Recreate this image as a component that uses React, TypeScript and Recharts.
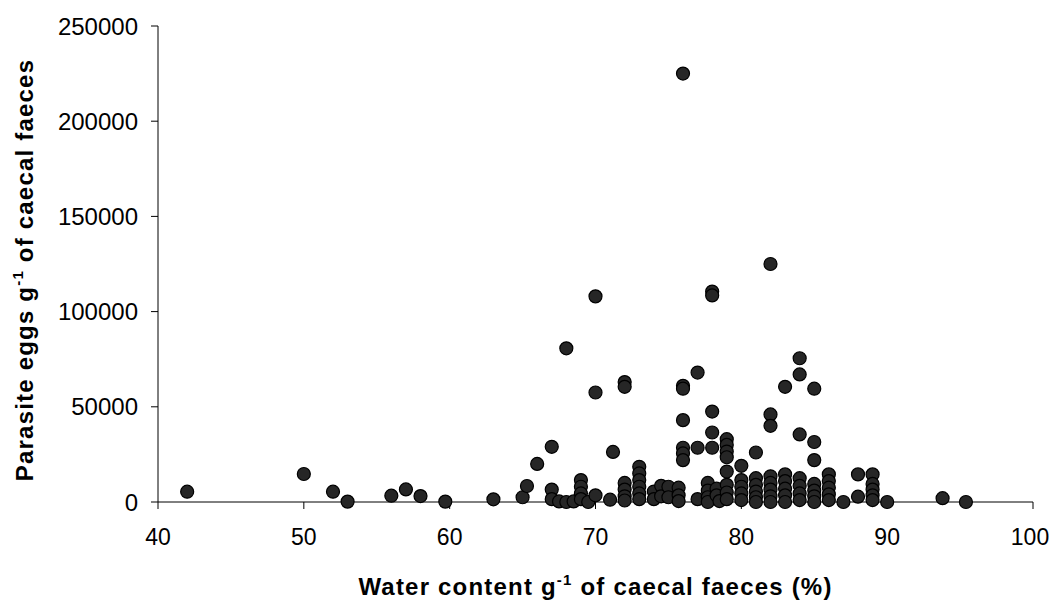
import { ScatterChart, Scatter, XAxis, YAxis, Label } from 'recharts'

// water content (%) and parasite eggs per g, one entry per bird
const waterContent = [
  42, 50, 52, 53, 56, 57, 58, 59.7, 63, 65, 65.3, 66, 67, 67, 67, 67.5, 68, 68.5, 68,
  69, 69, 69, 69, 69.5, 70, 70, 70, 71, 71.2, 72, 72, 72, 72, 72, 72,
  73, 73, 73, 73, 73, 73, 74, 74, 74.5, 74.5, 75, 75, 75.7, 75.7, 75.7,
  76, 76, 76, 76, 76, 76, 76, 77, 77, 77, 77.7, 77.7, 77.7, 77.7,
  78, 78, 78, 78, 78, 78.3, 78.3, 78.5,
  79, 79, 79, 79, 79, 79, 79, 79, 80, 80, 80, 80, 80,
  81, 81, 81, 81, 81, 81, 82, 82, 82, 82, 82, 82, 82, 82,
  83, 83, 83, 83, 83, 83, 84, 84, 84, 84, 84, 84, 84,
  85, 85, 85, 85, 85, 85, 85, 86, 86, 86, 86, 86, 87,
  88, 88, 89, 89, 89, 89, 89, 90, 93.8, 95.4,
]

const eggsPerGram = [
  5400, 14700, 5400, 200, 3300, 6600, 3100, 200, 1400, 2500, 8400, 20000, 29000, 6500, 1500, 300, 0, 300, 80700,
  11500, 8000, 4500, 1500, 0, 3500, 57500, 108000, 1200, 26300, 63000, 60500, 10000, 6500, 3000, 800,
  18500, 15000, 11500, 8000, 4500, 1500, 5500, 1500, 8500, 3000, 8000, 2500, 7500, 3500, 500,
  225000, 61000, 59500, 43000, 28500, 25500, 22000, 68000, 28500, 1500, 10000, 6000, 2500, 0,
  110500, 108500, 47500, 36500, 28500, 7000, 3500, 500,
  33000, 30000, 26500, 23500, 16000, 9000, 5000, 1500, 19000, 11500, 8000, 4500, 1000,
  26000, 12500, 9000, 5500, 2500, 0, 125000, 46000, 40000, 13500, 10000, 6500, 3000, 0,
  60500, 14500, 11000, 7000, 3500, 0, 75500, 67000, 35500, 12500, 8500, 4500, 1000,
  59500, 31500, 22000, 9500, 6000, 3000, 0, 14500, 11000, 7500, 4000, 1000, 0,
  14500, 2800, 14500, 9500, 6500, 3500, 1000, 0, 2000, 0,
]

const xTicks = [40, 50, 60, 70, 80, 90, 100]
const yTicks = [0, 50000, 100000, 150000, 200000, 250000]

const points = waterContent.map((x, i) => ({ x, y: eggsPerGram[i] }))

const FONT = '"Liberation Sans", Arial, sans-serif'

const Dot = (props: any) => (
  <circle cx={props.cx} cy={props.cy} r={6.5} fill="#262626" stroke="#000" strokeWidth={1.2} />
)

// last label nudged left so it stays inside the page
const XTick = (props: any) => {
  const v = props.payload.value
  return (
    <text x={props.x - (v === 100 ? 3 : 0)} y={props.y} dy="0.71em" textAnchor="middle"
      fontFamily={FONT} fontSize={23} fill="#000">
      {v}
    </text>
  )
}

const XTitle = (props: any) => {
  const vb = props.viewBox || { x: 150, y: 494, width: 875, height: 60 }
  const cx = vb.x + vb.width / 2
  return (
    <text x={cx} y={587} textAnchor="middle" fontFamily={FONT} fontWeight="bold" fontSize={24}
      letterSpacing={1.2} fill="#000">
      <tspan>Water content g</tspan>
      <tspan dy={-10} fontSize={15}>-1</tspan>
      <tspan dy={10}> of caecal faeces (%)</tspan>
    </text>
  )
}

const YTitle = (props: any) => {
  const vb = props.viewBox || { x: 0, y: 18, width: 150, height: 476 }
  const cy = vb.y + vb.height / 2 + 6
  return (
    <text transform={`translate(25,${cy}) rotate(-90)`} textAnchor="middle" fontFamily={FONT}
      fontWeight="bold" fontSize={24} letterSpacing={1.2} fill="#000">
      <tspan>Parasite eggs g</tspan>
      <tspan dy={-10} fontSize={15}>-1</tspan>
      <tspan dy={10}> of caecal faeces</tspan>
    </text>
  )
}

export default function App() {
  return (
    <ScatterChart width={1041} height={595} margin={{ top: 18, right: 16, left: 0, bottom: 41 }}>
      <XAxis
        type="number"
        dataKey="x"
        domain={[40, 100]}
        ticks={xTicks}
        interval={0}
        height={60}
        tickSize={7}
        tickMargin={20}
        stroke="#000"
        tick={XTick}
      >
        <Label content={XTitle} />
      </XAxis>
      <YAxis
        type="number"
        dataKey="y"
        domain={[0, 250000]}
        ticks={yTicks}
        interval={0}
        width={150}
        tickSize={7}
        tickMargin={13}
        stroke="#000"
        tick={{ fontSize: 24, fill: '#000', fontFamily: FONT }}
      >
        <Label content={YTitle} />
      </YAxis>
      <Scatter data={points} shape={Dot} isAnimationActive={false} />
    </ScatterChart>
  )
}
